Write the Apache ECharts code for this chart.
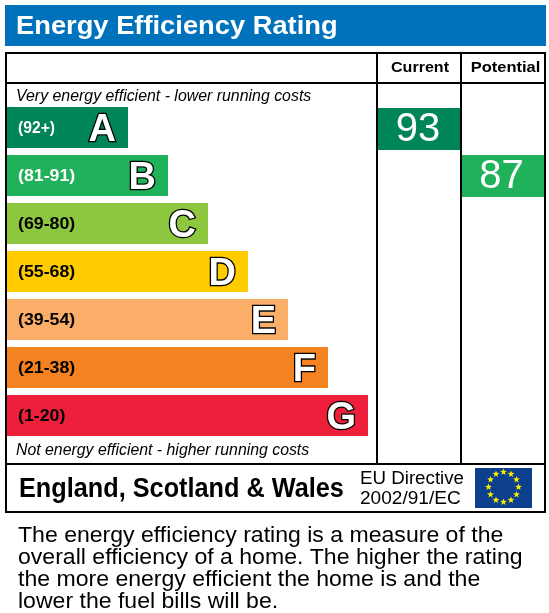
<!DOCTYPE html>
<html>
<head>
<meta charset="utf-8">
<style>html,body{margin:0;padding:0;background:#fff}#c{width:549px;height:613px}</style>
<script src="https://cdn.jsdelivr.net/npm/echarts@6/dist/echarts.min.js"></script>
</head>
<body>
<div id="c"></div>
<script>
// EPC energy efficiency rating bands, from the best band down to the worst.
const bands = ['A', 'B', 'C', 'D', 'E', 'F', 'G'];
const ranges = ['(92+)', '(81-91)', '(69-80)', '(55-68)', '(39-54)', '(21-38)', '(1-20)'];
const bandLengths = [3, 4, 5, 6, 7, 8, 9];
const bandColors = ['#00855a', '#1fb25a', '#8dc63f', '#ffcc00', '#fbae67', '#f58220', '#ee1f3b'];
const rangeColors = ['#ffffff', '#ffffff', '#000000', '#000000', '#000000', '#000000', '#000000'];
const currentRating = 93;
const potentialRating = 87;
const currentBand = 0;
const potentialBand = 1;
const blurb = [
  'The energy efficiency rating is a measure of the',
  'overall efficiency of a home. The higher the rating',
  'the more energy efficient the home is and the',
  'lower the fuel bills will be.'
];

const SANS = '"Liberation Sans", Arial, sans-serif';

function rect(x, y, w, h, fill) {
  return { type: 'rect', shape: { x, y, width: w, height: h }, style: { fill }, silent: true };
}
function label(x, y, text, font, scaleX, align, fill) {
  return { type: 'text', x, y, scaleX: scaleX || 1, style: { text, font, fill: fill || '#000', textAlign: align || 'left', textVerticalAlign: 'middle' }, silent: true };
}
// Five-pointed star polygon for the EU flag.
function star(cx, cy, r) {
  const points = [];
  for (let i = 0; i < 10; i++) {
    const a = -Math.PI / 2 + i * Math.PI / 5;
    const d = i % 2 ? r * 0.4 : r;
    points.push([cx + d * Math.cos(a), cy + d * Math.sin(a)]);
  }
  return { type: 'polygon', shape: { points }, style: { fill: '#ffee00' }, silent: true };
}
function flag(x, y, w, h) {
  const items = [rect(x, y, w, h, '#0c3f8e')];
  for (let i = 0; i < 12; i++) {
    const a = i * Math.PI / 6;
    items.push(star(x + w / 2 + 15 * Math.sin(a), y + h / 2 - 1 - 15 * Math.cos(a), 3.6));
  }
  return items;
}

// One rating column: its own grid with a single bar filling the column width.
function ratingColumn(idx, left, top, width, value, band, nudge) {
  return {
    grid: { left, top, width, height: 336 },
    xAxis: { gridIndex: idx, type: 'value', min: 0, max: value, show: false },
    yAxis: { gridIndex: idx, type: 'category', inverse: true, data: bands, show: false },
    series: {
      type: 'bar', xAxisIndex: idx, yAxisIndex: idx, barWidth: 42, silent: true,
      data: bands.map((b, i) => i === band ? { value, itemStyle: { color: bandColors[band] } } : null),
      label: { show: true, position: 'inside', offset: nudge, color: '#fff', fontFamily: SANS, fontSize: 40, formatter: '{c}' }
    }
  };
}
const cur = ratingColumn(1, 378, 105, 82, currentRating, currentBand, [-1, 1]);
const pot = ratingColumn(2, 462, 104, 82, potentialRating, potentialBand, [-1.5, 1]);

const chart = echarts.init(document.getElementById('c'), null, { renderer: 'canvas' });
chart.setOption({
  animation: false,
  backgroundColor: '#fff',
  grid: [{ left: 7, top: 103.5, width: 361, height: 336 }, cur.grid, pot.grid],
  xAxis: [{ type: 'value', min: 0, max: 9.025, show: false }, cur.xAxis, pot.xAxis],
  yAxis: [{ type: 'category', inverse: true, data: bands, show: false }, cur.yAxis, pot.yAxis],
  series: [{
    // thin lead-in so the bars butt up against the frame rule
    type: 'bar', stack: 'band', barWidth: 41, silent: true,
    data: bands.map((b, i) => ({ value: 0.025, itemStyle: { color: bandColors[i] } }))
  }, {
    type: 'bar', stack: 'band', barWidth: 41, silent: true,
    data: bandLengths.map((v, i) => ({ value: v, itemStyle: { color: bandColors[i] } })),
    label: {
      show: true, position: 'insideRight', distance: 12, offset: [0, 3],
      formatter: p => bands[p.dataIndex],
      fontFamily: SANS, fontWeight: 'bold', fontSize: 38, color: '#fff',
      textBorderColor: '#000', textBorderWidth: 2.6
    }
  }, {
    // score range printed at the left end of each band
    type: 'custom', silent: true, z: 5,
    data: ranges.map((r, i) => [0, i]),
    encode: { x: 0, y: 1 },
    renderItem: (params, api) => {
      const i = params.dataIndex;
      const pt = api.coord([0, i]);
      return {
        type: 'text', x: 18, y: pt[1] + 1, scaleX: i === 0 ? 0.98 : 1.11,
        style: { text: ranges[i], font: 'bold 16px ' + SANS, fill: rangeColors[i], textAlign: 'left', textVerticalAlign: 'middle' }
      };
    }
  }, cur.series, pot.series],
  graphic: [
    rect(5, 5, 541, 41, '#0072bc'),
    label(16, 27, 'Energy Efficiency Rating', 'bold 26px ' + SANS, 1.05, 'left', '#fff'),
    // table frame and column rules
    rect(5, 52, 541, 2, '#000'), rect(5, 82, 541, 2, '#000'),
    rect(5, 463, 541, 2, '#000'), rect(5, 511, 541, 2, '#000'),
    rect(5, 52, 2, 461, '#000'), rect(544, 52, 2, 461, '#000'),
    rect(376, 52, 2, 412, '#000'), rect(460, 52, 2, 412, '#000'),
    label(420, 68, 'Current', 'bold 15px ' + SANS, 1.07, 'center'),
    label(505.5, 68, 'Potential', 'bold 15px ' + SANS, 1.1, 'center'),
    label(16, 97, 'Very energy efficient - lower running costs', 'italic 16px ' + SANS, 0.993),
    label(16, 451, 'Not energy efficient - higher running costs', 'italic 16px ' + SANS, 0.99),
    label(19, 489.5, 'England, Scotland & Wales', 'bold 27px ' + SANS, 0.936),
    label(360, 479.5, 'EU Directive', '18px ' + SANS, 1.04),
    label(360, 499, '2002/91/EC', '18px ' + SANS, 1.06),
    ...flag(475, 468, 57, 40),
    ...blurb.map((line, i) => label(18, 535.5 + i * 22, line, '22px ' + SANS, 1.048))
  ]
});
</script>
</body>
</html>
